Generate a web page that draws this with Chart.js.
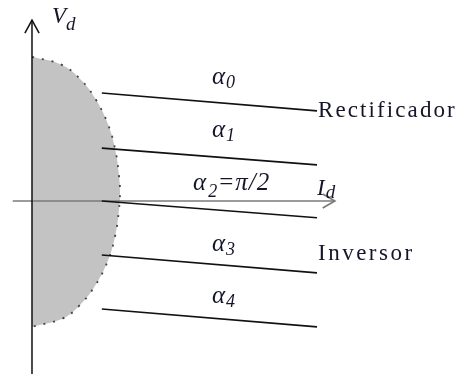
<!DOCTYPE html>
<html lang="pt">
<head>
  <meta charset="UTF-8">
  <title>Característica Vd-Id: rectificador / inversor</title>
  <script src="https://cdn.jsdelivr.net/npm/chart.js"></script>
  <style>
    html, body {
      margin: 0;
      background: #fff;
    }
    #wrap {
      width: 461px;
      height: 374px;
    }
  </style>
</head>
<body>
  <div id="wrap">
    <canvas id="vdChart"></canvas>
  </div>
  <script>
    // rectas Vd(Id) para cada angulo de disparo (unidades arbitrarias)
    const alphaNames = ['0', '1', '2', '3', '4'];
    const idStart = [0.98, 0.98, 0.98, 0.98, 0.98];
    const idEnd = [4.0, 4.0, 4.0, 4.0, 4.0];
    const vdStart = [2.0, 0.98, 0.0, -1.0, -2.0];
    const vdEnd = [1.67, 0.67, -0.31, -1.33, -2.33];

    // zona sombreada (limite de funcionamento)
    const zoneId = [0, 0.42, 0.69, 0.90, 1.07, 1.17, 1.22, 1.235, 1.22, 1.17, 1.07, 0.89, 0.67, 0.44, 0];
    const zoneVd = [2.67, 2.52, 2.24, 1.87, 1.41, 0.94, 0.48, 0.17, -0.17, -0.63, -1.09, -1.56, -1.93, -2.17, -2.33];

    // eixos
    const axisIdRange = [-0.27, 4.25];
    const axisVdRange = [-3.4, 3.35];

    const SERIF = '"Liberation Serif", "Times New Roman", serif';
    const INK = '#15152a';

    function seg(x0, y0, x1, y1) {
      return [{ x: x0, y: y0 }, { x: x1, y: y1 }];
    }

    const datasets = [];

    alphaNames.forEach((n, i) => {
      datasets.push({
        label: 'alpha' + n,
        data: seg(idStart[i], vdStart[i], idEnd[i], vdEnd[i]),
        borderColor: '#111',
        borderWidth: 1.7
      });
    });

    // eixo Vd (vertical) com seta
    datasets.push({ label: 'Vd', data: seg(0, axisVdRange[0], 0, axisVdRange[1]), borderColor: '#111', borderWidth: 1.5 });
    datasets.push({ label: 'Vd-seta', data: [{ x: -0.1, y: 3.11 }, { x: 0, y: axisVdRange[1] }, { x: 0.1, y: 3.11 }], borderColor: '#111', borderWidth: 1.5 });
    // eixo Id (horizontal) com seta
    datasets.push({ label: 'Id', data: seg(axisIdRange[0], 0, axisIdRange[1], 0), borderColor: '#7a7a7a', borderWidth: 1.7 });
    datasets.push({ label: 'Id-seta', data: [{ x: 4.08, y: 0.13 }, { x: axisIdRange[1], y: 0 }, { x: 4.08, y: -0.13 }], borderColor: '#7a7a7a', borderWidth: 1.7 });

    datasets.push({
      label: 'zona',
      data: zoneId.map((v, i) => ({ x: v, y: zoneVd[i] })),
      borderColor: '#444',
      borderWidth: 1.8,
      borderDash: [2, 8],
      backgroundColor: '#c3c3c3',
      fill: 'shape',
      tension: 0.4,
      order: 10
    });

    // textos (posicao em unidades do grafico)
    const textLayer = {
      id: 'textLayer',
      afterDatasetsDraw(chart) {
        const { ctx, scales: { x, y } } = chart;
        const it = s => 'italic ' + s + 'px ' + SERIF;
        const rm = s => s + 'px ' + SERIF;

        function put(parts, id, vd, spacing) {
          let px = x.getPixelForValue(id);
          const py = y.getPixelForValue(vd);
          ctx.save();
          ctx.fillStyle = INK;
          ctx.textBaseline = 'alphabetic';
          ctx.textAlign = 'left';
          ctx.letterSpacing = (spacing || 0) + 'px';
          parts.forEach(p => {
            ctx.font = p.f;
            ctx.fillText(p.t, px, py + (p.dy || 0));
            px += ctx.measureText(p.t).width + (p.gap || 0);
          });
          ctx.restore();
        }

        const alphaVd = [2.17, 1.18, 0.204, -0.93, -1.89];
        alphaNames.forEach((n, i) => {
          if (n === '2') {
            put([
              { t: 'α', f: it(25), gap: 1 },
              { t: '2', f: it(18), dy: 7, gap: 1 },
              { t: '=', f: rm(25), gap: 1 },
              { t: 'π/2', f: it(25) }
            ], 2.26, alphaVd[i], 1);
          } else {
            put([
              { t: 'α', f: it(25), gap: 1 },
              { t: n, f: it(18), dy: 4 }
            ], 2.526, alphaVd[i]);
          }
        });

        put([{ t: 'Rectificador', f: rm(23) }], 4.014, 1.556, 2.1);
        put([{ t: 'Inversor', f: rm(23) }], 4.014, -1.093, 2.5);
        put([{ t: 'I', f: it(23), gap: 1 }, { t: 'd', f: it(19), dy: 3 }], 4.0, 0.11);
        put([{ t: 'V', f: it(23), gap: 0 }, { t: 'd', f: it(19), dy: 7 }], 0.281, 3.296);
      }
    };

    const chart = new Chart(document.getElementById('vdChart'), {
      type: 'scatter',
      data: { datasets },
      plugins: [textLayer],
      options: {
        responsive: true,
        maintainAspectRatio: false,
        animation: false,
        events: [],
        layout: { padding: 0 },
        showLine: true,
        elements: {
          point: { radius: 0 },
          line: { fill: false }
        },
        plugins: {
          legend: { display: false },
          tooltip: { enabled: false }
        },
        scales: {
          x: { type: 'linear', display: false, min: -0.449, max: 6.021 },
          y: { type: 'linear', display: false, min: -3.204, max: 3.722 }
        }
      }
    });
  </script>
</body>
</html>
